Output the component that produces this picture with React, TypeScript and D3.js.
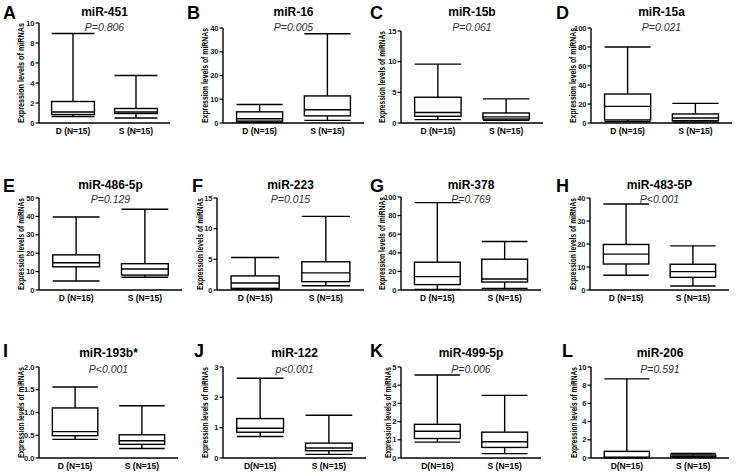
import React from "react";
import * as d3 from "d3";

// ---- data ----
const letters = ["A", "B", "C", "D", "E", "F", "G", "H", "I", "J", "K", "L"];
const titles = ["miR-451", "miR-16", "miR-15b", "miR-15a", "miR-486-5p", "miR-223", "miR-378", "miR-483-5P", "miR-193b*", "miR-122", "miR-499-5p", "miR-206"];
const pValues = ["P=0.806", "P=0.005", "P=0.061", "P=0.021", "P=0.129", "P=0.015", "P=0.769", "P<0.001", "P<0.001", "p<0.001", "P=0.006", "P=0.591"];
const yMaxes = [10, 40, 15, 100, 50, 15, 100, 40, 2, 3, 5, 10];
const yTickSteps = [2, 10, 5, 20, 10, 5, 20, 10, 0.5, 1, 1, 2];
const tickDecimals = [0, 0, 0, 0, 0, 0, 0, 0, 1, 0, 0, 0];
const dLabels = ["D (N=15)", "D (N=15)", "D (N=15)", "D (N=15)", "D (N=15)", "D (N=15)", "D (N=15)", "D (N=15)", "D (N=15)", "D(N=15)", "D(N=15)", "D(N=15)"];
const sLabels = ["S (N=15)", "S (N=15)", "S (N=15)", "S (N=15)", "S (N=15)", "S (N=15)", "S (N=15)", "S (N=15)", "S (N=15)", "S (N=15)", "S (N=15)", "S (N=15)"];
// [min, q1, median, q3, max]
const dStats = [
  [0.65, 0.85, 1.1, 2.15, 8.95],
  [0.3, 0.8, 1.8, 4.7, 7.8],
  [0.55, 1.1, 1.7, 4.2, 9.6],
  [1.4, 3.2, 17.5, 30.5, 80],
  [4.9, 12.6, 14.8, 19.1, 39.7],
  [0.1, 0.27, 1.15, 2.3, 5.3],
  [0.7, 5.8, 14.4, 29.9, 94],
  [6.4, 11.3, 15.6, 19.8, 37.4],
  [0.41, 0.49, 0.58, 1.1, 1.56],
  [0.71, 0.85, 0.98, 1.3, 2.63],
  [0.87, 1.07, 1.47, 1.85, 4.56],
  [0.02, 0.04, 0.1, 0.73, 8.7],
];
const sStats = [
  [0.5, 0.95, 1.1, 1.45, 4.75],
  [1.1, 3.0, 5.6, 11.4, 37.6],
  [0.45, 0.65, 1.0, 1.64, 3.93],
  [1.0, 2.5, 5.3, 9.5, 20.7],
  [6.9, 8.1, 11.4, 14.3, 43.9],
  [0.7, 1.36, 2.8, 4.6, 12.0],
  [1.8, 8.6, 11.9, 33.1, 52.2],
  [1.75, 5.5, 8.0, 11.2, 19.2],
  [0.21, 0.3, 0.38, 0.51, 1.15],
  [0.12, 0.24, 0.33, 0.49, 1.41],
  [0.24, 0.58, 0.89, 1.42, 3.44],
  [0.04, 0.07, 0.18, 0.33, 0.5],
];

// ---- layout: [axisX, yTop, yBottom, xRight, letterX, yLabelX] ----
const layout = [
  [39, 23, 123, 170, 3, 21],
  [223, 28, 123, 364, 187, 205],
  [401, 31, 123, 543, 370, 382],
  [591, 28, 123, 732, 556, 573],
  [39, 198, 290, 182, 3, 21],
  [217, 198, 290, 364, 192, 200],
  [401, 197, 290, 541, 370, 382],
  [590, 198, 290, 729, 556, 573],
  [39, 367, 458, 178, 3, 21],
  [223, 367, 458, 366, 194, 205],
  [401, 367, 458, 541, 370, 388],
  [591, 367, 458, 729, 562, 574],
];
const rowLetterY = [19, 192, 357];
const rowTitleY = [16, 189, 357];
const rowPY = [31, 203, 373];

const FONT = "'Liberation Sans', Arial, Helvetica, sans-serif";

function Panel({ i }: { i: number }) {
  const [ax, yTop, yBot, xRight, letterX, yLabelX] = layout[i];
  const row = Math.floor(i / 4);
  const y = d3.scaleLinear().domain([0, yMaxes[i]]).range([yBot, yTop]);
  const x = d3
    .scaleBand<string>()
    .domain(["D", "S"])
    .range([ax, xRight])
    .paddingInner(0.32)
    .paddingOuter(0.2);
  const ticks = d3.range(0, yMaxes[i] + yTickSteps[i] / 2, yTickSteps[i]);
  const fmt = d3.format(`.${tickDecimals[i]}f`);
  const bw = x.bandwidth();
  const groups: [string, number[], string][] = [
    ["D", dStats[i], dLabels[i]],
    ["S", sStats[i], sLabels[i]],
  ];
  const cx = (ax + xRight) / 2;
  const axisH = yBot - yTop;
  return (
    <g>
      <text x={letterX} y={rowLetterY[row]} fontFamily={FONT} fontWeight="bold" fontSize={18} fill="#000">
        {letters[i]}
      </text>
      <text x={cx} y={rowTitleY[row]} textAnchor="middle" fontFamily={FONT} fontWeight="bold" fontSize={12} fill="#000">
        {titles[i]}
      </text>
      <text x={cx} y={rowPY[row]} textAnchor="middle" fontFamily={FONT} fontStyle="italic" fontSize={10.5} fill="#333">
        {pValues[i]}
      </text>
      <text
        transform={`translate(${yLabelX},${(yTop + yBot) / 2}) rotate(-90)`}
        textAnchor="middle"
        dy="0.35em"
        fontFamily={FONT}
        fontWeight="bold"
        fontSize={8.5}
        textLength={axisH}
        lengthAdjust="spacingAndGlyphs"
        fill="#000"
      >
        Expression levels of miRNAs
      </text>
      {/* y axis */}
      <line x1={ax} x2={ax} y1={yTop} y2={yBot} stroke="#000" strokeWidth={1.4} />
      {ticks.map((t) => (
        <g key={t}>
          <line x1={ax - 3.5} x2={ax} y1={y(t)} y2={y(t)} stroke="#000" strokeWidth={1.2} />
          <text x={ax - 4.5} y={y(t)} dy="0.35em" textAnchor="end" fontFamily={FONT} fontWeight="bold" fontSize={7.5} fill="#222">
            {fmt(t)}
          </text>
        </g>
      ))}
      {/* x axis */}
      <line x1={ax} x2={xRight} y1={yBot} y2={yBot} stroke="#000" strokeWidth={1.4} />
      {groups.map(([k, s, lab]) => {
        const x0 = x(k) as number;
        const c = x0 + bw / 2;
        const [mn, q1, md, q3, mx] = s;
        return (
          <g key={k}>
            <line x1={c} x2={c} y1={y(mx)} y2={y(q3)} stroke="#000" strokeWidth={1.4} />
            <line x1={c} x2={c} y1={y(q1)} y2={y(mn)} stroke="#000" strokeWidth={1.4} />
            <line x1={x0} x2={x0 + bw} y1={y(mx)} y2={y(mx)} stroke="#000" strokeWidth={1.4} />
            <line x1={x0} x2={x0 + bw} y1={y(mn)} y2={y(mn)} stroke="#000" strokeWidth={1.4} />
            <rect x={x0} y={y(q3)} width={bw} height={y(q1) - y(q3)} fill="#fff" stroke="#000" strokeWidth={1.4} />
            <line x1={x0} x2={x0 + bw} y1={y(md)} y2={y(md)} stroke="#000" strokeWidth={1.4} />
            <text x={c} y={yBot + 11} textAnchor="middle" fontFamily={FONT} fontWeight="bold" fontSize={8.5} fill="#000">
              {lab}
            </text>
          </g>
        );
      })}
    </g>
  );
}

export default function App() {
  return (
    <div style={{ position: "absolute", left: 0, top: 0 }}>
      <svg width={736} height={474} style={{ display: "block", background: "#fff" }}>
        <rect width={736} height={474} fill="#fff" />
        {letters.map((_, i) => (
          <Panel key={i} i={i} />
        ))}
      </svg>
    </div>
  );
}
